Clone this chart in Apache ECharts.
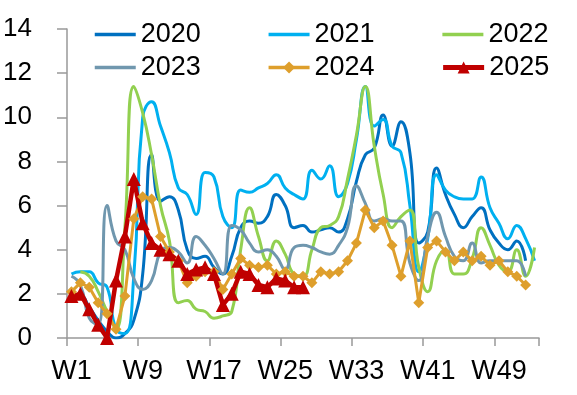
<!DOCTYPE html>
<html>
<head>
<meta charset="utf-8">
<script src="https://cdn.jsdelivr.net/npm/echarts@6/dist/echarts.min.js"></script>
<style>
html,body{margin:0;padding:0;background:#fff;}
#c{width:577px;height:395px;}
</style>
</head>
<body>
<div id="c"></div>
<script>
var weeks = [];
for (var i = 1; i <= 53; i++) weeks.push('W' + i);

var y2020 = [1.9,1.9,1.4,0.8,0.3,0.0,0.2,0.8,2.9,8.3,6.2,6.4,5.8,4.0,3.6,3.7,3.2,2.9,3.7,5.0,5.3,5.2,5.5,6.5,6.0,5.0,5.1,4.8,4.9,5.0,4.8,5.4,7.1,8.3,8.6,10.1,8.7,9.8,8.4,4.3,4.8,7.7,6.5,5.6,5.0,5.5,5.9,4.9,4.3,4.0,4.4,3.5,null];
var y2021 = [2.9,3.0,3.0,2.5,2.3,0.4,0.2,2.8,10.0,10.7,9.6,8.4,6.8,6.5,5.6,7.5,7.3,5.5,5.0,6.7,6.6,6.8,7.0,7.4,6.8,6.5,6.3,7.6,7.2,7.8,6.4,7.0,9.0,11.4,9.6,9.9,8.7,8.4,6.0,3.0,4.5,7.4,6.7,6.4,6.3,6.3,7.3,5.9,5.2,4.5,5.1,4.5,3.5];
var y2022 = [null,3.0,2.8,2.1,1.2,0.4,5.0,11.4,10.2,8.3,6.0,4.4,1.6,1.7,1.3,1.2,0.9,1.0,1.2,4.0,5.9,4.6,3.5,4.4,3.8,2.9,2.8,4.0,5.0,5.1,5.5,7.2,9.2,11.4,8.7,6.5,5.0,5.5,5.8,3.2,2.1,3.5,4.0,2.9,2.9,3.6,5.0,4.2,3.3,3.0,4.0,2.8,4.1];
var y2023 = [2.8,2.4,0.9,0.6,6.0,4.4,4.0,2.7,2.2,2.6,3.9,4.1,3.9,3.4,4.6,4.2,3.6,2.9,5.1,4.9,4.3,3.9,4.0,3.7,3.1,4.1,4.2,4.1,3.9,3.8,4.2,5.0,6.9,6.1,5.3,5.4,5.3,5.3,3.4,2.6,4.6,5.7,4.6,3.7,3.5,4.3,3.4,3.5,3.5,3.5,3.5,2.8,null];
var y2024 = [2.1,2.5,2.3,1.6,1.1,0.4,1.9,5.4,6.4,6.3,4.6,3.9,3.5,2.5,2.8,3.0,3.0,2.2,2.9,3.6,3.3,3.2,3.3,2.9,3.0,2.8,2.8,2.5,3.0,2.9,3.0,3.5,4.3,5.8,5.0,5.3,4.2,2.8,4.4,1.6,4.1,4.4,3.9,3.5,3.9,3.5,3.7,3.3,3.5,3.0,2.8,2.4,null];
var y2025 = [1.9,2.0,1.3,0.6,0.0,2.6,4.6,7.2,5.2,4.3,4.0,3.8,3.5,2.9,3.1,3.2,2.9,1.5,2.0,3.0,2.9,2.4,2.3,2.7,2.6,2.3,2.3];

var legendRow1 = ['2020','2021','2022'];
var legendRow2 = ['2023','2024','2025'];
var plainLines = ['2020','2021','2022','2023'];

var FONT = '"Liberation Sans", Arial, sans-serif';

function smoothLine(name, data, color, width) {
  return {
    name: name, type: 'line', data: data, smooth: 0.5,
    symbol: 'none', showSymbol: false,
    lineStyle: {color: color, width: width},
    itemStyle: {color: color},
    connectNulls: false
  };
}
function legendItems(names) {
  return names.map(function (n) {
    if (plainLines.indexOf(n) >= 0) return {name: n, itemStyle: {opacity: 0}, lineStyle: {width: 3.5}};
    if (n === '2025') return {name: n, lineStyle: {width: 5}};
    return {name: n, lineStyle: {width: 3.5}};
  });
}

var chart = echarts.init(document.getElementById('c'), null, {renderer: 'canvas'});
var legendBase = {
  left: 93, padding: 0, itemWidth: 41, itemHeight: 15, itemGap: 66,
  textStyle: {fontSize: 27, color: '#000', fontFamily: FONT}
};
chart.setOption({
  animation: false,
  backgroundColor: '#fff',
  textStyle: {fontFamily: FONT},
  grid: {left: 67, right: 38, top: 29, bottom: 57, containLabel: false},
  legend: [
    Object.assign({}, legendBase, {top: 21, data: legendItems(legendRow1)}),
    Object.assign({}, legendBase, {top: 54, data: legendItems(legendRow2)})
  ],
  xAxis: {
    type: 'category', data: weeks, boundaryGap: true,
    axisLine: {lineStyle: {color: '#999', width: 1.5}},
    axisTick: {show: true, length: 8, interval: 7, lineStyle: {color: '#999', width: 1.5}},
    axisLabel: {interval: 7, fontSize: 27, color: '#000', margin: 20, fontFamily: FONT}
  },
  yAxis: {
    type: 'value', min: 0, max: 14, interval: 2,
    splitLine: {show: false},
    axisLine: {show: true, lineStyle: {color: '#999', width: 1.5}},
    axisTick: {show: true, length: 10, lineStyle: {color: '#999', width: 1.5}},
    axisLabel: {fontSize: 26, color: '#000', margin: 35, fontFamily: FONT}
  },
  series: [
    smoothLine('2020', y2020, '#0070C0', 3),
    smoothLine('2021', y2021, '#00B0F0', 3),
    smoothLine('2022', y2022, '#92D050', 3),
    smoothLine('2023', y2023, '#7097AE', 3),
    {
      name: '2024', type: 'line', data: y2024, smooth: false,
      symbol: 'diamond', symbolSize: 11, showSymbol: true, showAllSymbol: true,
      lineStyle: {color: '#DE9F2C', width: 3},
      itemStyle: {color: '#DE9F2C'}
    },
    {
      name: '2025', type: 'line', data: y2025, smooth: false,
      symbol: 'triangle', symbolSize: 14, showSymbol: true, showAllSymbol: true,
      lineStyle: {color: '#C00000', width: 4.5},
      itemStyle: {color: '#C00000'}
    }
  ]
});
</script>
</body>
</html>
